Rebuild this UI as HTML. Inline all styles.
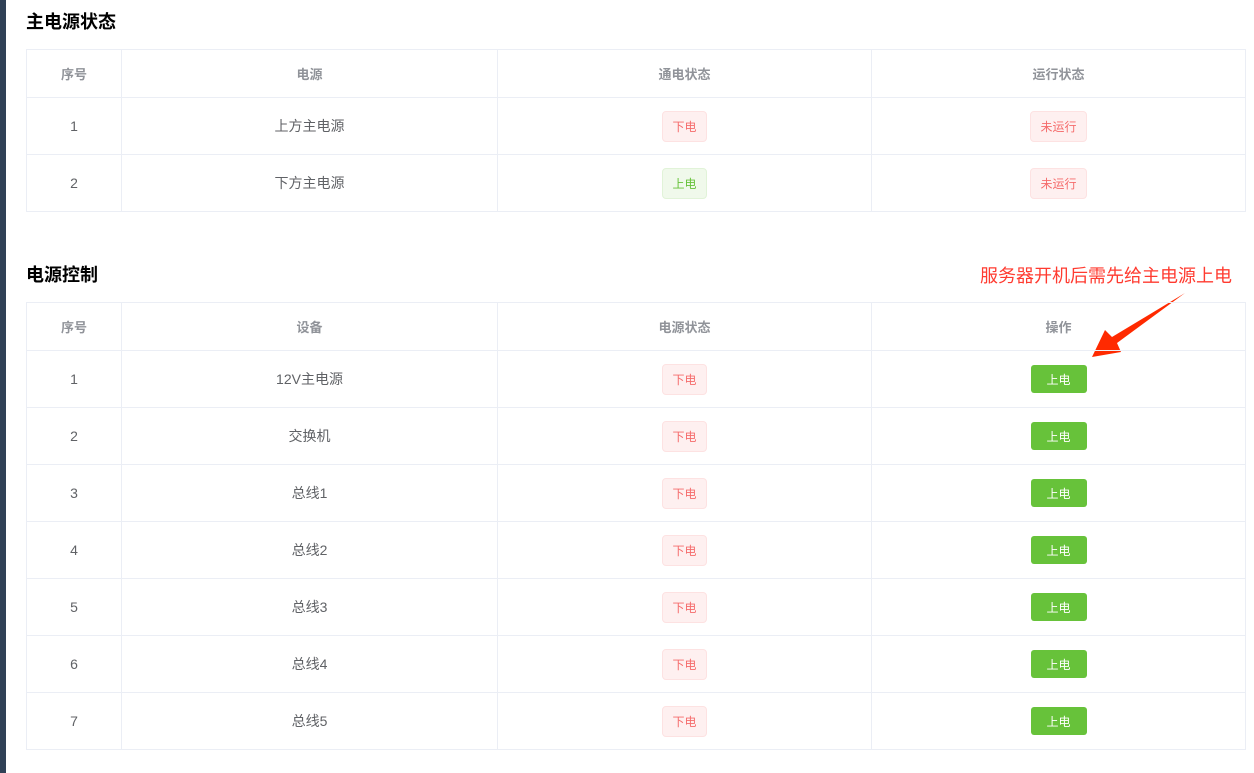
<!DOCTYPE html>
<html><head><meta charset="utf-8"><style>
*{box-sizing:border-box;margin:0;padding:0}
body{width:1254px;height:773px;background:#fff;position:relative;overflow:hidden;font-family:"Liberation Sans","Noto Sans CJK SC",sans-serif;}
.side{position:absolute;left:0;top:0;width:6px;height:773px;background:#304156}
.title{position:absolute;left:26px;font-size:18px;font-weight:bold;color:#000}
.tbl{position:absolute;left:26px;width:1220px;border:1px solid #ebeef5;border-bottom:none}
.row{display:flex;border-bottom:1px solid #ebeef5}
.c{display:flex;align-items:center;justify-content:center;border-right:1px solid #ebeef5;font-size:14px;color:#606266}
.c:last-child{border-right:none}
.c1{width:95px}.c2{width:376px}.c3{width:374px}.c4{flex:1}
.hd .c{color:#909399;font-weight:bold;font-size:13px}
.tag{display:inline-flex;align-items:center;justify-content:center;height:31px;padding:0 9px;border-radius:4px;font-size:12px;border:1px solid}
.red{background:#fef0f0;border-color:#fde2e2;color:#f56c6c}
.grn{background:#f0f9eb;border-color:#e1f3d8;color:#67c23a}
.btn{width:56px;height:28px;background:#67c23a;color:#fff;border:none;border-radius:3px;font-size:12px;font-family:inherit}
.note{position:absolute;left:980px;top:262px;color:#ff3b30;font-size:18px}
</style></head><body>
<div class="side"></div>
<div class="title" style="top:8px">主电源状态</div>
<div class="tbl" style="top:49px">
<div class="row hd" style="height:48px"><div class="c c1">序号</div><div class="c c2">电源</div><div class="c c3">通电状态</div><div class="c c4">运行状态</div></div>
<div class="row" style="height:57px"><div class="c c1">1</div><div class="c c2">上方主电源</div><div class="c c3"><span class="tag red">下电</span></div><div class="c c4"><span class="tag red">未运行</span></div></div>
<div class="row" style="height:57px"><div class="c c1">2</div><div class="c c2">下方主电源</div><div class="c c3"><span class="tag grn">上电</span></div><div class="c c4"><span class="tag red">未运行</span></div></div>
</div>
<div class="title" style="top:261px">电源控制</div>
<div class="note">服务器开机后需先给主电源上电</div>
<svg style="position:absolute;left:0;top:0" width="1254" height="773">
<polygon points="1185,293 1117,343 1121,352 1092,357 1105,330 1112,337" fill="#ff2a00"/>
</svg>
<div class="tbl" style="top:302px">
<div class="row hd" style="height:48px"><div class="c c1">序号</div><div class="c c2">设备</div><div class="c c3">电源状态</div><div class="c c4">操作</div></div>
<div id="rows"></div>
</div>
<script>
const devices=['12V主电源','交换机','总线1','总线2','总线3','总线4','总线5'];
const host=document.getElementById('rows');
devices.forEach((d,i)=>{
const r=document.createElement('div');r.className='row';r.style.height='57px';


r.innerHTML='<div class="c c1">'+(i+1)+'</div><div class="c c2">'+d+'</div><div class="c c3"><span class="tag red">下电</span></div><div class="c c4"><button class="btn">上电</button></div>';
const t=r.querySelector('.tag');


const b=r.querySelector('.btn');


host.appendChild(r);
});
</script>
</body></html>
